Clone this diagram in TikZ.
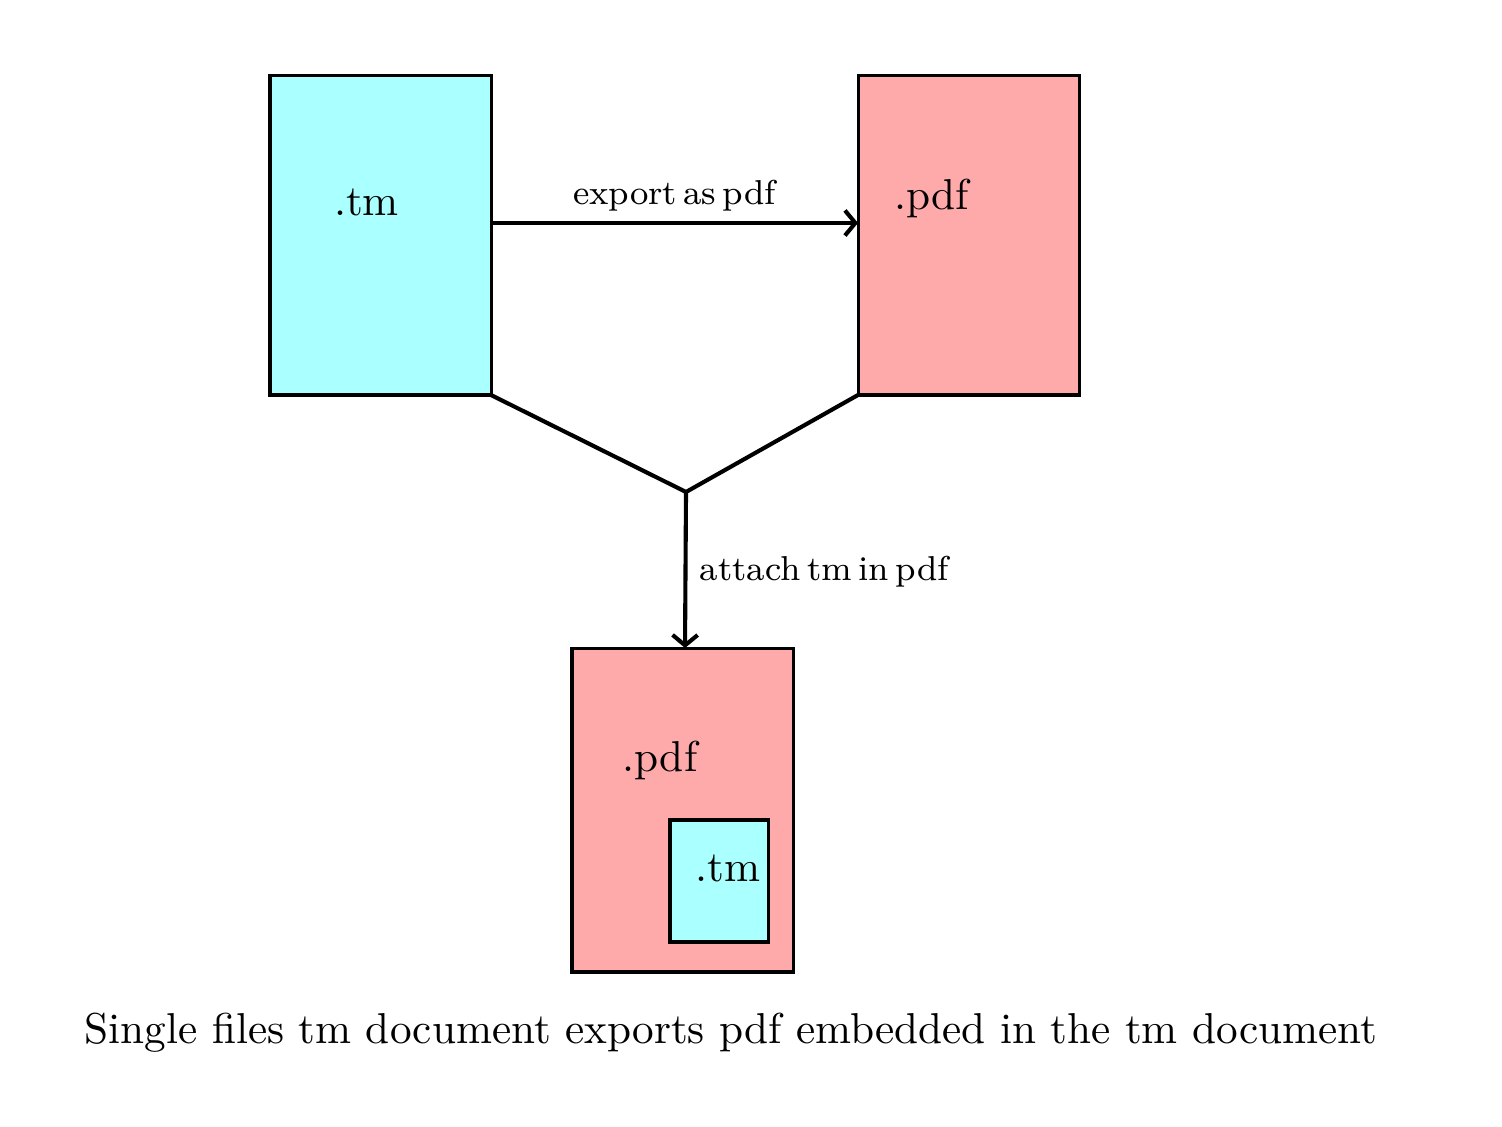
\documentclass[tikz,border=0pt]{standalone}
\usetikzlibrary{arrows.meta,calc}
\definecolor{tmcyan}{HTML}{AAFFFF}
\definecolor{pdfpink}{HTML}{FFAAAA}
\newcommand{\mytightfont}{\footnotesize\spaceskip=1.5pt\relax}
\begin{document}
\begin{tikzpicture}[x=0.2314pt,y=-0.2314pt,
  filebox/.style={draw=black,line width=0.7pt,rectangle,inner sep=0pt,outer sep=0pt},
  bigbox/.style={filebox,minimum width=51.14pt,minimum height=73.82pt},
  conn/.style={draw=black,line width=0.95pt},
  tip/.style={-{Straight Barb[length=2.4pt,width=5.8pt,line width=0.95pt]}},
  lbl/.style={inner sep=0pt,anchor=base,font=\normalsize},
  small/.style={inner sep=0pt,font=\mytightfont}]
\useasboundingbox (0,0) rectangle (1502,1126);
\node[bigbox,fill=tmcyan] (tm) at (380.5,235.5) {};
\node[bigbox,fill=pdfpink] (pdf) at (968.5,235.5) {};
\node[filebox,fill=pdfpink,minimum width=51.14pt,minimum height=74.97pt] (out) at (682.5,810) {};
\node[filebox,fill=tmcyan,minimum width=22.68pt,minimum height=28.23pt] (inner) at (719,881) {};
\node[lbl] (tmtxt) at (366.5,216) {.tm};
\node[lbl] (pdftxt) at (931.5,210) {.pdf};
\node[lbl] (outtxt) at (660,771) {.pdf};
\node[lbl] (innertxt) at (728,881) {.tm};
\coordinate (j) at (686,492);
\draw[conn,tip] ($(tm.east)+(0,-12.5)$) -- node[small,anchor=base,yshift=4.2pt] (exp) {export as pdf} ($(pdf.west)+(0,-12.5)$);
\draw[conn,line join=miter] (tm.south east) -- (j) -- (pdf.south west);
\draw[conn,tip] (j) -- ($(out.north)+(2.5,0)$);
\node[small,anchor=base west] (att) at (699,580) {attach tm in pdf};
\node[lbl] (cap) at (731,1043) {Single files tm document exports pdf embedded in the tm document};
\end{tikzpicture}
\end{document}
